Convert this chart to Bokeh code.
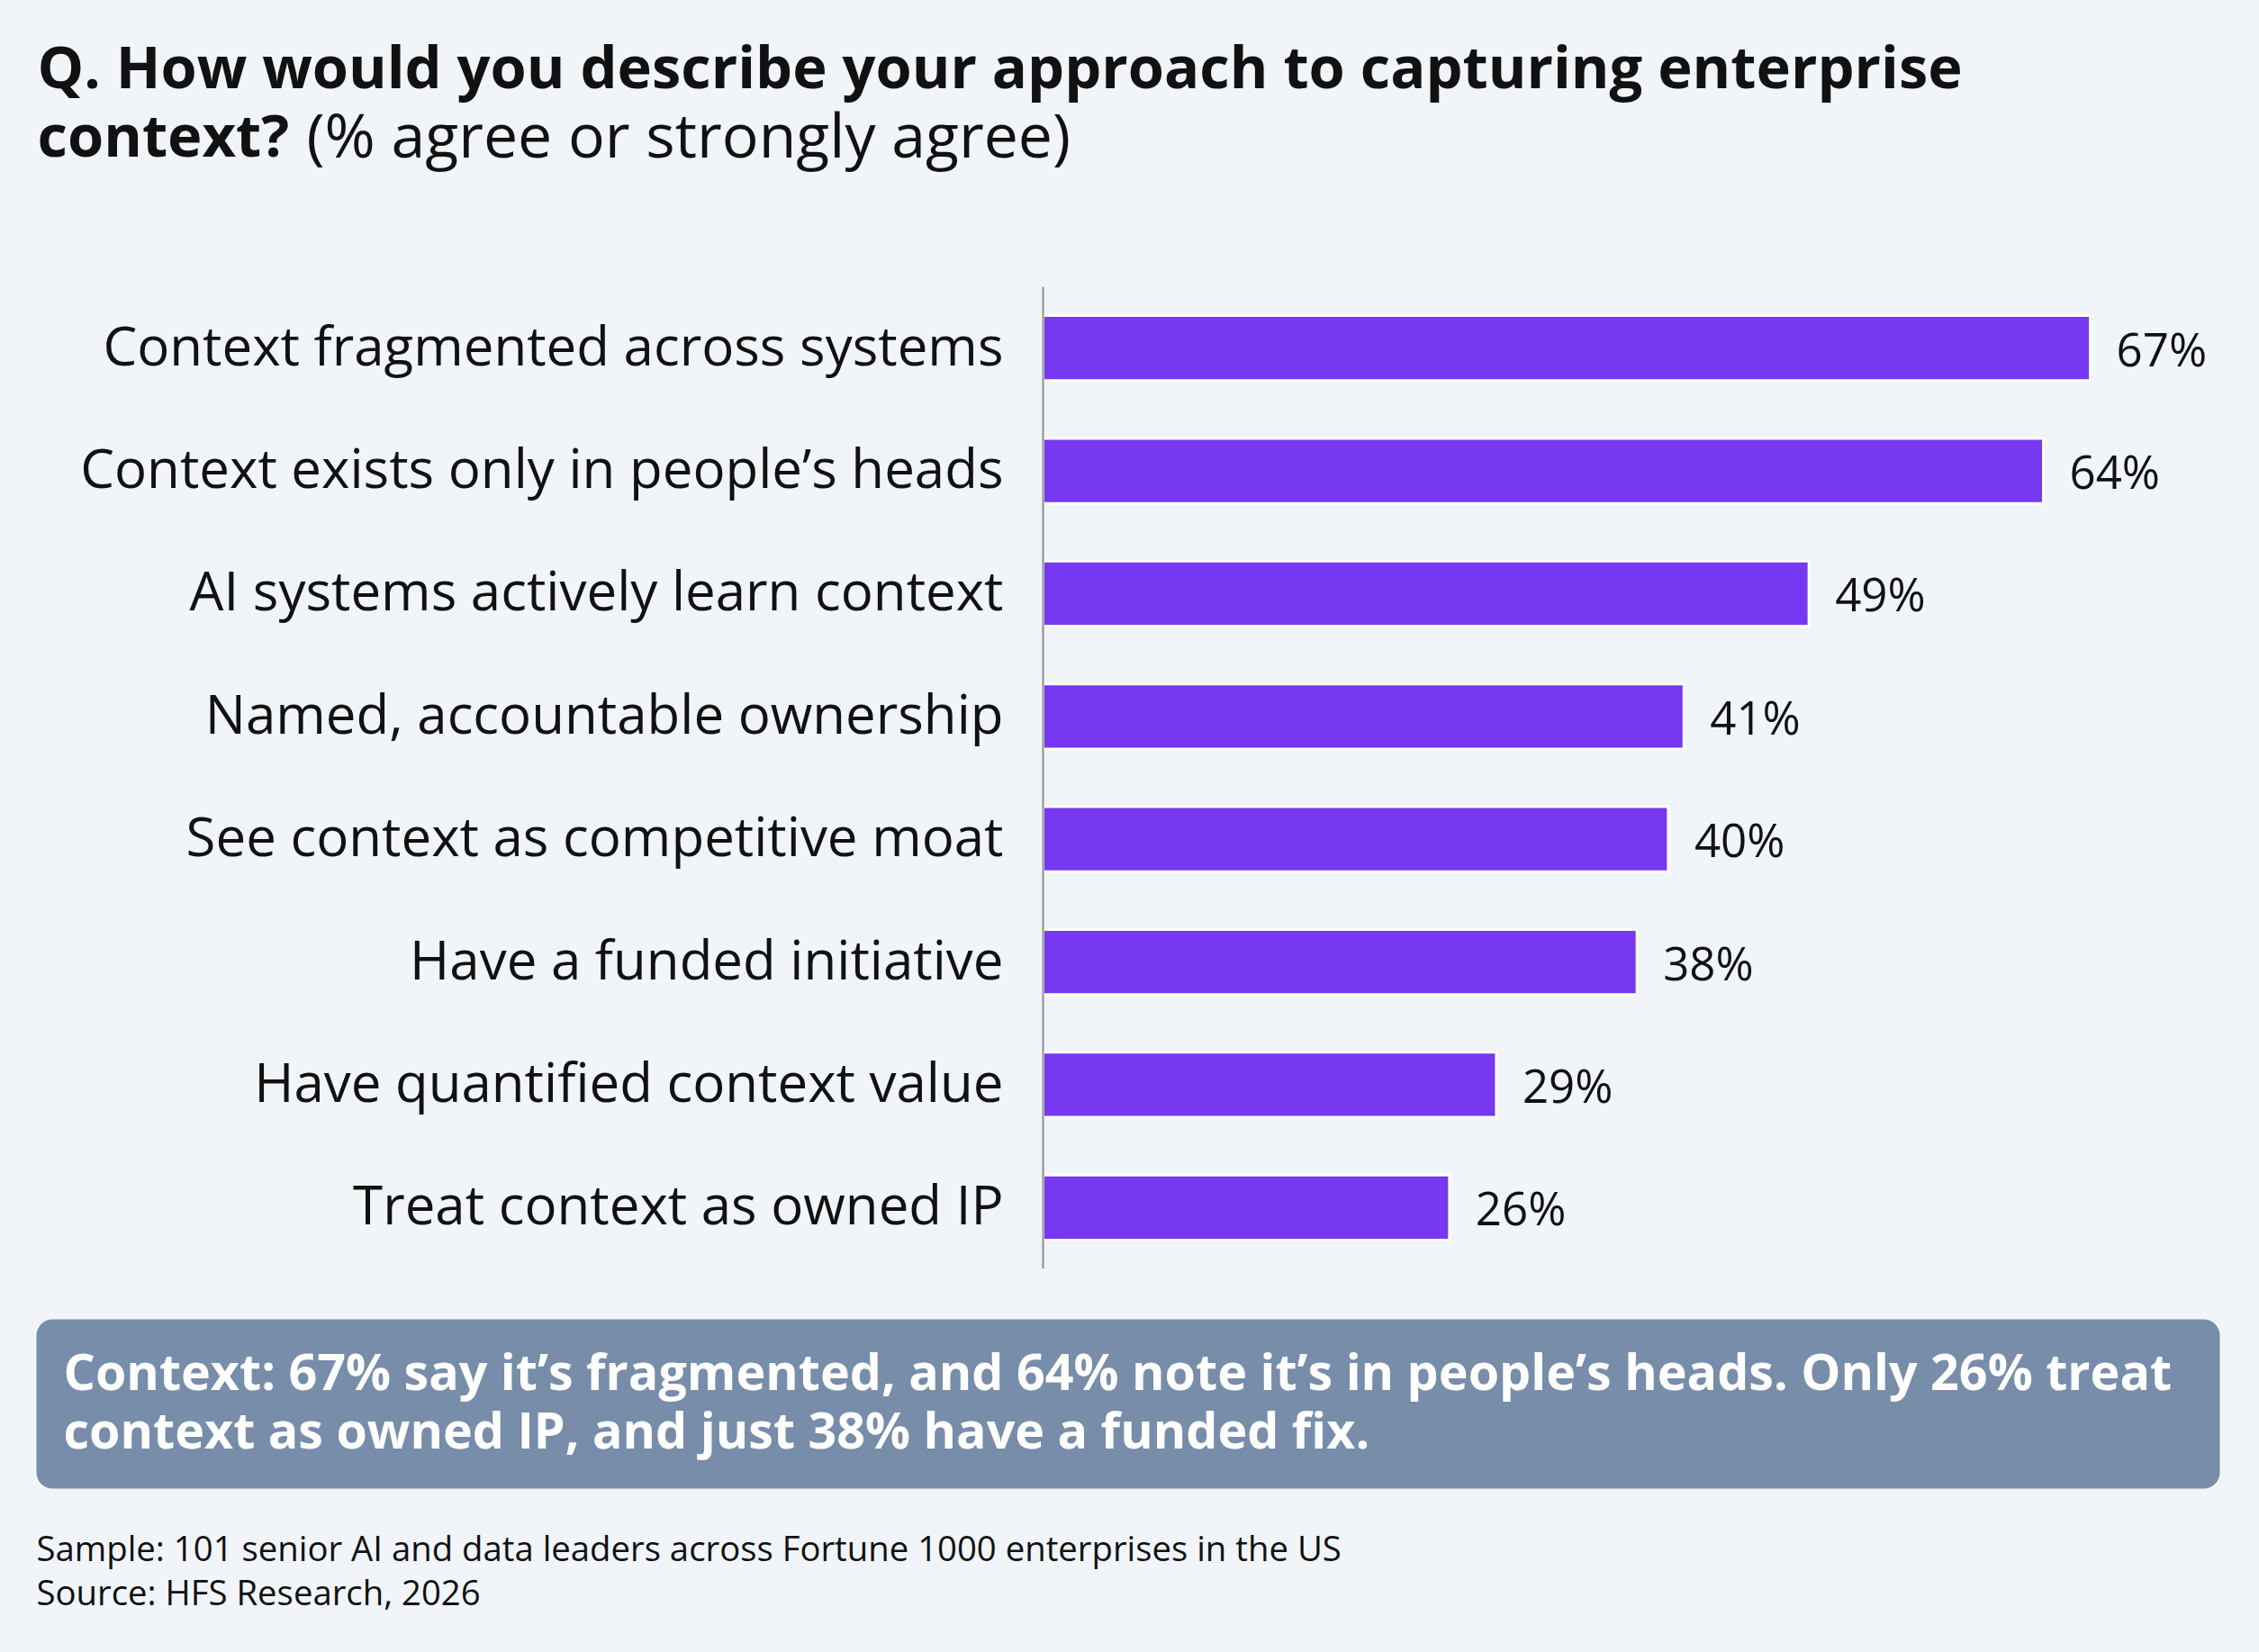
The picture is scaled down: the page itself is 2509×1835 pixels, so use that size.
from bokeh.plotting import figure
from bokeh.layouts import column
from bokeh.models import FactorRange, Range1d, Label, BoxAnnotation, ColumnDataSource, Span
from bokeh.core.properties import value
from bokeh.embed import file_html
from bokeh.resources import INLINE

# ---- data -------------------------------------------------------------
categories = [
    "Context fragmented across systems",
    "Context exists only in people’s heads",
    "AI systems actively learn context",
    "Named, accountable ownership",
    "See context as competitive moat",
    "Have a funded initiative",
    "Have quantified context value",
    "Treat context as owned IP",
]
shares = [67, 64, 49, 41, 40, 38, 29, 26]
share_labels = [f"{v}%" for v in shares]

title_line1 = "Q. How would you describe your approach to capturing enterprise"
title_bold2 = "context?"
title_light2 = "(% agree or strongly agree)"
callout_lines = [
    "Context: 67% say it’s fragmented, and 64% note it’s in people’s heads. Only 26% treat",
    "context as owned IP, and just 38% have a funded fix.",
]
footer_lines = [
    "Sample: 101 senior AI and data leaders across Fortune 1000 enterprises in the US",
    "Source: HFS Research, 2026",
]

# ---- style ------------------------------------------------------------
FONT = "Open Sans"
BG = "#F1F5F9"
BAR = "#7638F0"
CALLOUT = "#778DA9"
INK = "#111111"
AXIS = "#8C8C8C"

W = 2509
HEADER_H = 318      # space above the bar chart
CHART_H = 1091      # bar chart height
FOOTER_H = 426      # callout panel and footnotes
AXIS_X = 1158       # where the value axis starts, in pixels
PX_PER_PCT = 17.36  # horizontal scale of the bars


def text_panel(height):
    """A figure whose frame is the whole panel, in pixel-like units with y downward."""
    f = figure(
        width=W, height=height,
        output_backend="svg", toolbar_location=None,
        x_range=Range1d(0, W), y_range=Range1d(height, 0),
        x_axis_location=None, y_axis_location=None,
        min_border=0, background_fill_color=BG, border_fill_color=BG,
        outline_line_color=None,
    )
    f.grid.grid_line_color = None
    return f


def put(f, x, baseline, text, size, bold=False, color=INK):
    """Place a text line by its left edge and (approximate) baseline."""
    f.add_layout(Label(
        x=x, y=baseline - 0.37 * size, text=text,
        text_font=FONT, text_font_size=f"{size}px",
        text_font_style="bold" if bold else "normal",
        text_color=color, text_align="left", text_baseline="alphabetic",
    ))


# ---- header -----------------------------------------------------------
header = text_panel(HEADER_H)
put(header, 41, 97, title_line1, 65, bold=True)
put(header, 41, 173, title_bold2, 65, bold=True)
put(header, 340, 173, title_light2, 68)

# ---- bar chart --------------------------------------------------------
p = figure(
    width=W, height=CHART_H,
    output_backend="svg", toolbar_location=None,
    y_range=FactorRange(factors=list(reversed(categories))),
    x_range=Range1d(-AXIS_X / PX_PER_PCT, (W - AXIS_X) / PX_PER_PCT),
    x_axis_location=None, y_axis_location=None,
    min_border=0,
    background_fill_color=BG, border_fill_color=BG,
    outline_line_color=None,
)
p.grid.grid_line_color = None

src = ColumnDataSource(dict(cat=categories, share=shares, label=share_labels))

p.hbar(y="cat", left=0, right="share", height=0.53, source=src,
       fill_color=BAR, line_color="white", line_width=3)

# value labels at the bar ends
p.text(x="share", y="cat", text="label", source=src,
       x_offset=29, text_baseline="middle", text_align="left",
       text_font=value(FONT), text_font_size="51px", text_color=INK)

# category labels, right-aligned against the axis line
p.text(x=0, y="cat", text="cat", source=src,
       x_offset=-44, y_offset=-4, text_baseline="middle", text_align="right",
       text_font=value(FONT), text_font_size="60px", text_color=INK)

# vertical axis line at zero
p.add_layout(Span(location=0, dimension="height", line_color=AXIS, line_width=2))

# ---- callout and footnotes -------------------------------------------
footer = text_panel(FOOTER_H)
footer.add_layout(BoxAnnotation(
    left=40, right=2465, top=56, bottom=244,
    fill_color=CALLOUT, fill_alpha=1.0, line_alpha=0, border_radius=18,
))
put(footer, 70, 134, callout_lines[0], 55.6, bold=True, color="white")
put(footer, 70, 199, callout_lines[1], 55.6, bold=True, color="white")
put(footer, 40, 324, footer_lines[0], 38.3)
put(footer, 40, 373, footer_lines[1], 38.3)

page = column(header, p, footer, spacing=0, styles={"background-color": BG})
open("out.html", "w").write(file_html(page, INLINE))
